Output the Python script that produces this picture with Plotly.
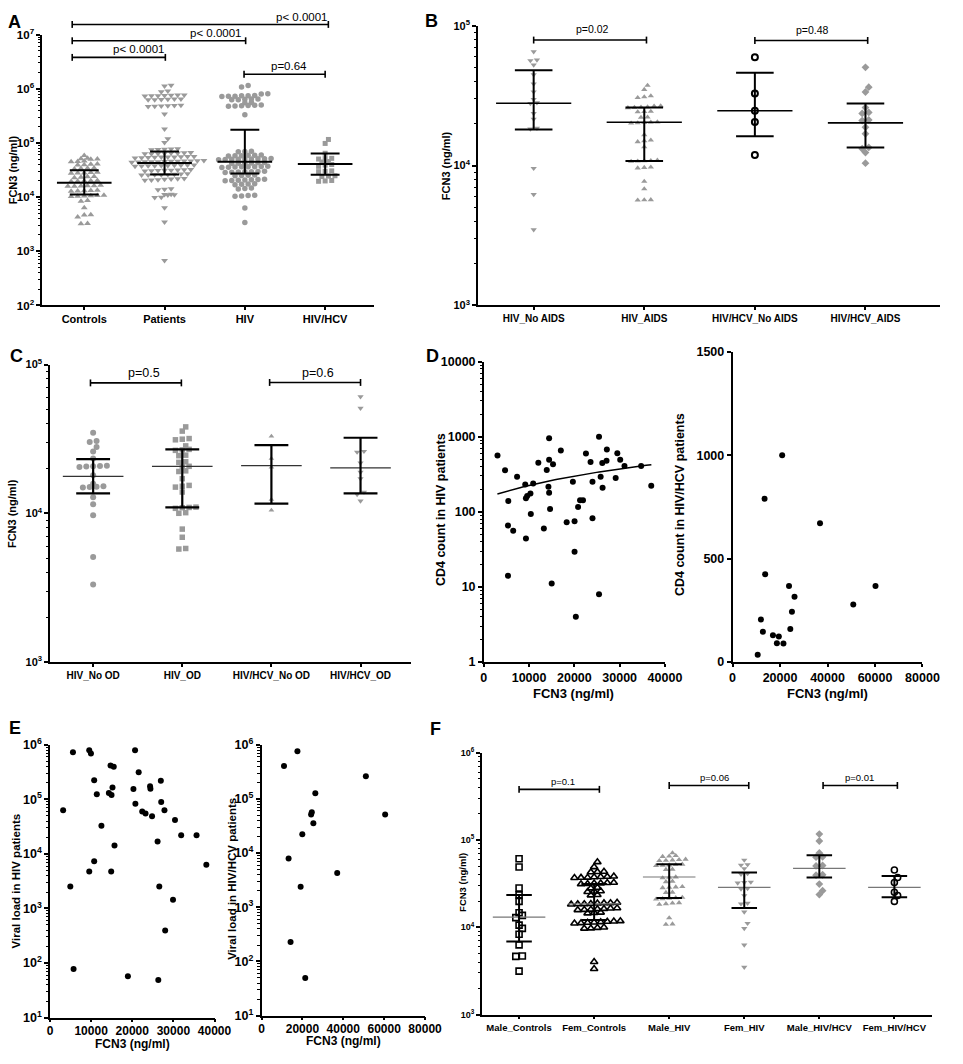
import numpy as np
import plotly.graph_objects as go

W, H = 963, 1064
FONT = "Arial, 'Liberation Sans', sans-serif"
GRAY = "#9a9a9a"

# ======================= DATA =======================
# ---- Panel A ----
a_categories = ["Controls", "Patients", "HIV", "HIV/HCV"]
a_controls = [58600, 51100, 52000, 50500, 49800, 45700, 46500, 44900, 39800, 40500, 39000, 41000,
              33700, 34500, 33000, 34000, 28000, 28500, 27500, 28800, 27800, 23400, 24000, 22800, 23700,
              19900, 20300, 19500, 20100, 19700, 16100, 16500, 15800, 16300, 15900, 16200,
              13100, 13400, 12800, 13200, 13000, 10500, 10700, 10300, 10600, 10400, 10800,
              8630, 8400, 6370, 4750, 4700, 4300, 3210, 3250]
a_patients = [1164000, 1120000, 906000, 880000,
              770000, 750000, 740000, 760000, 745000, 765000, 735000,
              645000, 630000, 640000, 625000, 650000, 635000,
              490000, 480000, 495000, 475000, 485000, 470000,
              342000, 181000, 120000, 102000,
              77000, 75500, 76800, 74900, 78000,
              65000, 64000, 66000, 63500, 64800, 65500, 63000, 66500,
              55000, 54000, 56000, 53500, 55500, 54500, 53000, 56500, 54800, 55200,
              46000, 45000, 47000, 44500, 46500, 45500, 44000, 47500, 45200, 46200, 44800, 45800,
              38500, 37800, 39000, 37500, 38800, 38000, 39300, 37200, 38300, 38600,
              31500, 31000, 32000, 30800, 31800, 31200, 32300, 30500,
              26500, 26000, 26800, 25700, 26300, 25900, 27000, 25500,
              21500, 21000, 21800, 20800, 21300, 22000, 20600,
              14000, 14300, 13700, 11100, 11300, 10900, 11200, 9910, 9800, 6370, 3490, 680]
a_hiv = [1145000, 1080000, 811000, 800000,
         740000, 730000, 745000, 725000, 750000, 720000,
         640000, 630000, 650000, 625000, 645000, 560000, 550000,
         490000, 480000, 495000, 475000, 485000, 500000, 333000,
         70000, 68500, 69500, 59000, 58000, 59500, 57500, 60000, 58300,
         50500, 50000, 51000, 49500, 51500, 49800, 50800, 49200, 51200,
         43000, 42000, 43500, 41800, 42800, 42300,
         36500, 35800, 36800, 35500, 36200, 37000, 35300, 36400,
         29500, 29000, 29800, 28800, 29300, 30000, 28500,
         25500, 25000, 25300, 24800,
         21000, 20500, 21200, 20300, 20800, 21400, 20100,
         17500, 17200, 17600, 17000, 14500, 14200, 14700,
         10800, 10500, 10700, 10400, 6270, 3400]
a_hivhcv = [116000, 98000, 64500, 52000, 50500, 51500, 45500, 44500, 40000, 39000, 37000,
            30500, 30000, 29500, 24800, 24400, 24000, 20300, 19900, 19600]
a_median = [18500, 42600, 45100, 40800]
a_low = [11200, 26200, 27400, 25800]
a_high = [31400, 69300, 175000, 63800]
a_pvalues = ["p< 0.0001", "p< 0.0001", "p< 0.0001", "p=0.64"]

# ---- Panel B ----
b_categories = ["HIV_No AIDS", "HIV_AIDS", "HIV/HCV_No AIDS", "HIV/HCV_AIDS"]
b_hiv_noaids = [65300, 56400, 57000, 52500, 44700, 38400, 33700, 29800, 28200, 27800, 23600,
                21500, 18300, 18500, 9570, 6220, 3480]
b_hiv_aids = [37400, 35000, 31500, 31000, 30600, 26600, 26700, 26000, 26100, 25900, 26200,
              24300, 24400, 24200, 22100, 22200, 20400, 20500, 20300, 20200, 20100,
              16600, 15200, 15000, 14800, 13600, 10800, 10900, 10700, 10850, 10750,
              9680, 9600, 9750, 7710, 6810, 5680, 5700, 5660]
b_hivhcv_noaids = [59600, 32800, 24700, 20500, 11900]
b_hivhcv_aids = [50400, 36400, 33600, 26000, 24000, 23600, 21200, 21000, 18800, 16900,
                 13500, 13200, 12400, 10400]
b_median = [27900, 20400, 24700, 20200]
b_low = [18100, 10800, 16200, 13500]
b_high = [48000, 26000, 46100, 27800]
b_pvalues = ["p=0.02", "p=0.48"]

# ---- Panel C ----
c_categories = ["HIV_No OD", "HIV_OD", "HIV/HCV_No OD", "HIV/HCV_OD"]
c_hiv_nood = [34800, 30600, 30100, 27900, 26000, 23400, 20700, 20800, 20600, 20900, 20500,
              18000, 15800, 15000, 15100, 14900, 15200, 12800, 11500, 9700, 5090, 3320]
c_hiv_od = [38100, 35700, 31500, 31800, 31200, 28400, 26700, 26900, 26500, 24600, 24400,
            22000, 22200, 20700, 20500, 19100, 19300, 17100, 15200, 15400, 15000, 13900,
            10900, 11000, 10800, 10950, 10000, 10100, 7830, 6900, 5750, 5800]
c_hivhcv_nood = [33000, 23400, 20400, 12400, 10500]
c_hivhcv_od = [60800, 50900, 25800, 26100, 21800, 18900, 17100, 13900, 13400, 12100]
c_median = [17700, 20700, 20900, 20200]
c_low = [13600, 10970, 11600, 13600]
c_high = [23100, 26900, 28700, 32200]
c_pvalues = ["p=0.5", "p=0.6"]

# ---- Panel D ----
d_hiv_fcn3 = [3027, 4690, 7350, 5405, 9150, 9580, 9300, 10300, 10900, 10380,
              5340, 6490, 9300, 12040, 13900, 14420, 14420, 15280, 14270, 14420,
              14630, 13260, 17010, 18300, 19670, 20040, 20820, 21250, 21900, 22550,
              23570, 24000, 24000, 25440, 25800, 26160, 26230, 27100, 27170, 29120,
              29480, 30120, 31060, 34740, 36970, 20040, 5340, 14990, 25440, 20320]
d_hiv_cd4 = [562, 357, 292, 139, 232, 163, 152, 175, 239, 93.5,
             65.9, 56.1, 44, 450, 361, 957, 493, 429, 216, 180,
             109, 60.2, 654, 72.8, 251, 75, 116, 143, 143, 598,
             460, 251, 82.2, 998, 292, 446, 210, 478, 675, 283,
             603, 493, 407, 407, 223, 29.4, 14.1, 11.1, 8.0, 4.0]
d_fit_intercept = 150.6
d_fit_slope = 0.00741
d_fit_xrange = [3000, 37000]
d_hcv_fcn3 = [20900, 13480, 36840, 13740, 23790, 60210, 26110, 50850, 25020, 11960,
              12780, 24330, 17030, 19500, 18680, 21440, 10600]
d_hcv_cd4 = [1000, 789, 671, 425, 367, 367, 316, 278, 243, 206, 146, 160, 129, 124, 90.5, 89, 35]

# ---- Panel E ----
e_hiv_fcn3 = [3190, 5580, 4940, 5730, 9540, 9950, 10740, 11380, 9540, 10740,
              12500, 14720, 15500, 14310, 14960, 15200, 15680, 14880, 18940, 20280,
              20760, 20680, 21560, 22420, 23230, 24330, 24420, 24810, 26950, 27040,
              27830, 26160, 26570, 28000, 26330, 30390, 29910, 31890, 35630, 38010]
e_hiv_vl = [63100, 730000, 2540, 78, 793000, 689000, 224000, 124000, 4740, 7300,
            32900, 419000, 396000, 131000, 120000, 164000, 14200, 4740, 57.5, 155000,
            83000, 793000, 313000, 59600, 54800, 173000, 157000, 49200, 219000, 89100,
            63100, 16900, 2540, 394, 48.8, 41700, 1446, 22000, 22000, 6340]
e_hcv_fcn3 = [11000, 17560, 51050, 26320, 24590, 24260, 60480, 25360, 19950, 13250,
              37030, 19140, 14210, 21390]
e_hcv_vl = [404000, 757000, 261000, 128000, 56700, 51400, 51400, 35700, 22200, 7960,
            4310, 2400, 228, 49.3]

# ---- Panel F ----
f_categories = ["Male_Controls", "Fem_Controls", "Male_HIV", "Fem_HIV", "Male_HIV/HCV", "Fem_HIV/HCV"]
f_male_controls = [61000, 49100, 28200, 23500, 19800, 14700, 13700, 12900, 10600, 9720,
                   8320, 6290, 4650, 4700, 3150]
f_fem_controls = [55900, 49100, 43100, 43500, 42800,
                  37800, 37200, 38000, 36900, 37600, 38300, 37000,
                  32000, 31500, 32300, 31300, 31900, 32500, 28500, 28000,
                  25800, 25500, 26000, 23500, 23300,
                  18800, 18500, 19000, 18300, 18900, 18600, 19200, 18400,
                  16300, 16000, 16500, 15900, 16200, 16600, 15800,
                  14700, 14500, 14800,
                  11500, 11300, 11700, 11200, 11600, 11100, 11400, 11800,
                  9900, 9750, 10000, 9700, 4020, 3350]
f_male_hiv = [71100, 65300, 66000, 64500, 58900, 59500, 58300, 60000, 58000,
              51700, 52200, 51200, 52700, 50800, 46200, 45800, 37200, 37600, 36800,
              33200, 33600, 28600, 28900, 28300, 29200, 25200, 25000,
              21500, 21800, 21200, 22000, 21000, 18600, 18900, 18300, 19100,
              12800, 10800, 10900]
f_fem_hiv = [58900, 51700, 52300, 47000, 40600, 41200, 32600, 32200, 33000, 27500, 27900,
             23100, 18600, 18900, 15000, 11100, 9720, 6290, 3490]
f_male_hivhcv = [117000, 97300, 71100, 63600, 64200, 50400, 51000, 39500, 40000, 31300, 26300, 23700]
f_fem_hivhcv = [45400, 37200, 32600, 25200, 23100, 19800]
f_median = [13100, 18600, 37700, 28700, 47200, 28700]
f_low = [6860, 12100, 21700, 16600, 37200, 22100]
f_high = [23500, 31300, 52600, 42400, 67000, 38800]
f_pvalues = ["p=0.1", "p=0.06", "p=0.01"]

# ======================= GEOMETRY (pixels) =======================
PANELS = {
    "A": dict(n=1, x0=40, x1=379, y0=301, y1=26, xr=[-0.524, 3.61], yr=[2, 7], ylog=True),
    "B": dict(n=2, x0=485, x1=957, y0=301, y1=17, xr=[-0.504, 3.675], yr=[3, 5], ylog=True),
    "C": dict(n=3, x0=48, x1=417, y0=663, y1=361, xr=[-0.484, 3.57], yr=[3, 5], ylog=True),
    "DL": dict(n=4, x0=491, x1=676, y0=663, y1=358, xr=[0, 40000], yr=[0, 4], ylog=True),
    "DR": dict(n=5, x0=745, x1=939, y0=663, y1=348, xr=[0, 80000], yr=[0, 1500], ylog=False),
    "EL": dict(n=6, x0=48, x1=216, y0=1024, y1=747, xr=[0, 40000], yr=[1, 6], ylog=True),
    "ER": dict(n=7, x0=264, x1=431, y0=1022, y1=747, xr=[0, 80000], yr=[1, 6], ylog=True),
    "F": dict(n=8, x0=489, x1=949, y0=1021, y1=755, xr=[-0.496, 5.505], yr=[3, 6], ylog=True),
}


def ax_names(p):
    n = PANELS[p]["n"]
    return ("x" if n == 1 else f"x{n}"), ("y" if n == 1 else f"y{n}")


def to_px(p, xv, yv):
    g = PANELS[p]
    fx = (xv - g["xr"][0]) / (g["xr"][1] - g["xr"][0])
    xpx = g["x0"] + fx * (g["x1"] - g["x0"])
    yy = np.log10(yv) if g["ylog"] else yv
    fy = (yy - g["yr"][0]) / (g["yr"][1] - g["yr"][0])
    ypx = g["y0"] + fy * (g["y1"] - g["y0"])
    return xpx, ypx


def row_swarm(ypix, h, s, d):
    """Group points into horizontal rows (Prism-like scatter dot plot)."""
    order = np.argsort(ypix, kind="stable")
    rows, cur = [], [order[0]]
    for k in order[1:]:
        if ypix[k] - ypix[cur[0]] <= h:
            cur.append(k)
        else:
            rows.append(cur)
            cur = [k]
    rows.append(cur)
    xs = np.zeros(len(ypix))
    prev_y, prev_n, prev_shift = -1e9, -1, 0.0
    for r in rows:
        n = len(r)
        ymean = float(np.mean(ypix[r]))
        shift = 0.0
        if ymean - prev_y < d and (n % 2) == (prev_n % 2) and prev_shift == 0.0:
            shift = s / 2
        for m, k in enumerate(r):
            xs[k] = (m - (n - 1) / 2) * s + shift
        prev_y, prev_n, prev_shift = ymean, n, shift
    return xs


fig = go.Figure()


def add_swarm(p, idx, values, symbol, color, size, s, h=3.2, lw=0):
    g = PANELS[p]
    xa, ya = ax_names(p)
    vals = np.asarray(values, float)
    ypix = (np.log10(vals) - g["yr"][0]) / (g["yr"][1] - g["yr"][0]) * (g["y0"] - g["y1"])
    offs = row_swarm(ypix, h, s, size)
    ppu = (g["x1"] - g["x0"]) / (g["xr"][1] - g["xr"][0])
    xs = idx + offs / ppu
    fig.add_trace(go.Scatter(x=xs, y=vals, mode="markers", xaxis=xa, yaxis=ya,
                             marker=dict(symbol=symbol, size=size, color=color,
                                         line=dict(width=lw, color=color)),
                             hoverinfo="skip", cliponaxis=False))


def add_errbars(p, med, low, high, mw, cw, lw_med, lw_bar, med_color="black"):
    xa, ya = ax_names(p)
    xm, ym, xb, yb = [], [], [], []
    for i, (m, l, h) in enumerate(zip(med, low, high)):
        xm += [i - mw, i + mw, None]
        ym += [m, m, None]
        xb += [i, i, None, i - cw, i + cw, None, i - cw, i + cw, None]
        yb += [l, h, None, l, l, None, h, h, None]
    fig.add_trace(go.Scatter(x=xm, y=ym, mode="lines", xaxis=xa, yaxis=ya,
                             line=dict(color=med_color, width=lw_med), hoverinfo="skip"))
    fig.add_trace(go.Scatter(x=xb, y=yb, mode="lines", xaxis=xa, yaxis=ya,
                             line=dict(color="black", width=lw_bar), hoverinfo="skip"))


shapes = []
annotations = []


def add_bracket(p, i, j, yv, text, tx, fsize, tshift, cap=3.5):
    x0, yp = to_px(p, i, yv)
    x1, _ = to_px(p, j, yv)
    txp, _ = to_px(p, tx, yv)
    line = dict(color="black", width=1.6)
    shapes.append(dict(type="line", xref="paper", yref="paper", x0=x0 / W, x1=x1 / W,
                       y0=1 - yp / H, y1=1 - yp / H, line=line))
    for xx in (x0, x1):
        shapes.append(dict(type="line", xref="paper", yref="paper", x0=xx / W, x1=xx / W,
                           y0=1 - (yp - cap) / H, y1=1 - (yp + cap) / H, line=line))
    annotations.append(dict(x=txp / W, y=1 - (yp - tshift) / H, xref="paper", yref="paper",
                            text=text, showarrow=False, xanchor="center", yanchor="middle",
                            font=dict(family=FONT, size=fsize, color="black")))


def add_text(xpx, ypx, text, size, angle=0, bold=True):
    annotations.append(dict(x=xpx / W, y=1 - ypx / H, xref="paper", yref="paper", text=text,
                            showarrow=False, xanchor="center", yanchor="middle", textangle=angle,
                            font=dict(family=FONT, size=size, color="black",
                                      weight="bold" if bold else "normal")))


# ---- Panel A marks ----
add_swarm("A", 0, a_controls, "triangle-up", GRAY, 6, 6.7, h=3.0)
add_swarm("A", 1, a_patients, "triangle-down", GRAY, 6, 6.7, h=3.0)
add_swarm("A", 2, a_hiv, "circle", GRAY, 5.5, 6.7, h=3.0)
add_swarm("A", 3, a_hivhcv, "square", GRAY, 5, 6.7, h=3.0)
add_errbars("A", a_median, a_low, a_high, 0.34, 0.18, 2, 2)
a_br = [(-0.15, 3.04, 1.54e7, 2.71), (-0.15, 2.01, 7.7e6, 1.63), (-0.15, 1.01, 3.8e6, 0.67),
        (1.99, 3.0, 1.86e6, 2.55)]
for (i, j, yv, tx), t in zip(a_br, a_pvalues):
    add_bracket("A", i, j, yv, t, tx, 11.5, 8)

# ---- Panel B marks ----
add_swarm("B", 0, b_hiv_noaids, "triangle-down", GRAY, 5.5, 6.7, h=3.5)
add_swarm("B", 1, b_hiv_aids, "triangle-up", GRAY, 5.5, 6.7, h=3.5)
add_swarm("B", 2, b_hivhcv_noaids, "circle-open", "black", 6, 6.7, h=3.5, lw=2)
add_swarm("B", 3, b_hivhcv_aids, "diamond", GRAY, 6, 6.7, h=3.5)
add_errbars("B", b_median, b_low, b_high, 0.34, 0.17, 1.6, 2)
b_br = [(0.0, 1.02, 79000, 0.53), (2.0, 3.02, 78500, 2.52)]
for (i, j, yv, tx), t in zip(b_br, b_pvalues):
    add_bracket("B", i, j, yv, t, tx, 10.5, 11)

# ---- Panel C marks ----
add_swarm("C", 0, c_hiv_nood, "circle", GRAY, 6, 7.0, h=3.5)
add_swarm("C", 1, c_hiv_od, "square", GRAY, 5.5, 7.0, h=3.5)
add_swarm("C", 2, c_hivhcv_nood, "triangle-up", GRAY, 5, 7.0, h=3.5)
add_swarm("C", 3, c_hivhcv_od, "triangle-down", GRAY, 5.5, 7.0, h=3.5)
add_errbars("C", c_median, c_low, c_high, 0.34, 0.19, 1.3, 2.2, med_color="#333333")
c_br = [(-0.03, 0.99, 75300, 0.57), (1.98, 3.0, 75800, 2.52)]
for (i, j, yv, tx), t in zip(c_br, c_pvalues):
    add_bracket("C", i, j, yv, t, tx, 12.5, 10)

# ---- Panel D marks ----
xa, ya = ax_names("DL")
fig.add_trace(go.Scatter(x=d_hiv_fcn3, y=d_hiv_cd4, mode="markers", xaxis=xa, yaxis=ya,
                         marker=dict(color="black", size=6), hoverinfo="skip", cliponaxis=False))
fit_x = np.linspace(d_fit_xrange[0], d_fit_xrange[1], 60)
fit_y = d_fit_intercept + d_fit_slope * fit_x
fig.add_trace(go.Scatter(x=fit_x, y=fit_y, mode="lines", xaxis=xa, yaxis=ya,
                         line=dict(color="black", width=1.5), hoverinfo="skip"))
xa, ya = ax_names("DR")
fig.add_trace(go.Scatter(x=d_hcv_fcn3, y=d_hcv_cd4, mode="markers", xaxis=xa, yaxis=ya,
                         marker=dict(color="black", size=6), hoverinfo="skip", cliponaxis=False))

# ---- Panel E marks ----
xa, ya = ax_names("EL")
fig.add_trace(go.Scatter(x=e_hiv_fcn3, y=e_hiv_vl, mode="markers", xaxis=xa, yaxis=ya,
                         marker=dict(color="black", size=6), hoverinfo="skip", cliponaxis=False))
xa, ya = ax_names("ER")
fig.add_trace(go.Scatter(x=e_hcv_fcn3, y=e_hcv_vl, mode="markers", xaxis=xa, yaxis=ya,
                         marker=dict(color="black", size=6), hoverinfo="skip", cliponaxis=False))

# ---- Panel F marks ----
add_swarm("F", 0, f_male_controls, "square-open", "black", 6, 6.7, h=3.0, lw=1.6)
add_swarm("F", 1, f_fem_controls, "triangle-up-open", "black", 6.5, 6.7, h=3.0, lw=1.6)
add_swarm("F", 2, f_male_hiv, "triangle-up", GRAY, 5.5, 6.7, h=3.0)
add_swarm("F", 3, f_fem_hiv, "triangle-down", GRAY, 5.5, 6.7, h=3.0)
add_swarm("F", 4, f_male_hivhcv, "diamond", GRAY, 6, 6.7, h=3.0)
add_swarm("F", 5, f_fem_hivhcv, "circle-open", "black", 6, 6.7, h=3.0, lw=1.6)
add_errbars("F", f_median, f_low, f_high, 0.35, 0.17, 1.2, 2, med_color="#777777")
f_br = [(0.0, 1.07, 380000, 0.59), (2.0, 3.06, 421000, 2.6), (4.05, 5.04, 421000, 4.54)]
for (i, j, yv, tx), t in zip(f_br, f_pvalues):
    add_bracket("F", i, j, yv, t, tx, 9.5, 8)

# ======================= AXES =======================
def sup_labels(lo, hi):
    return [10.0 ** k for k in range(lo, hi + 1)], [f"10<sup>{k}</sup>" for k in range(lo, hi + 1)]


def minor_vals(lo, hi):
    return [m * 10.0 ** k for k in range(lo, hi) for m in range(2, 10)]


def base_axis(fs):
    return dict(showline=True, linecolor="black", linewidth=1.5, ticks="outside", ticklen=4,
                tickwidth=1.5, tickcolor="black", showgrid=False, zeroline=False, mirror=False,
                fixedrange=True, tickfont=dict(family=FONT, size=fs, color="black", weight="bold"))


layout_axes = {}
cat_cfg = {"A": (a_categories, 11, 11.5), "B": (b_categories, 10, 11), "C": (c_categories, 10, 11),
           "F": (f_categories, 9.5, 9)}
for p, g in PANELS.items():
    n = g["n"]
    xk = "xaxis" if n == 1 else f"xaxis{n}"
    yk = "yaxis" if n == 1 else f"yaxis{n}"
    xa, ya = ax_names(p)
    xd = [g["x0"] / W, g["x1"] / W]
    yd = [1 - g["y0"] / H, 1 - g["y1"] / H]
    if p in cat_cfg:
        cats, xfs, yfs = cat_cfg[p]
        xax = base_axis(xfs)
        xax.update(type="linear", range=g["xr"], tickmode="array",
                   tickvals=list(range(len(cats))), ticktext=cats, ticklen=3)
    else:
        xfs = 12.5 if p.startswith("D") else 12
        yfs = 12.5
        xax = base_axis(xfs)
        step = 10000 if g["xr"][1] == 40000 else 20000
        tv = list(range(0, int(g["xr"][1]) + 1, step))
        xax.update(type="linear", range=g["xr"], tickmode="array",
                   tickvals=tv, ticktext=[str(v) for v in tv], ticklen=3)
        if p.startswith("E"):
            xax.update(ticklabelstandoff=-2)
    xax.update(domain=xd, anchor=ya)
    yax = base_axis(yfs)
    if g["ylog"]:
        lo, hi = g["yr"]
        if p == "DL":
            tv = [10.0 ** k for k in range(lo, hi + 1)]
            tt = [str(int(v)) for v in tv]
        else:
            tv, tt = sup_labels(lo, hi)
        yax.update(type="log", range=g["yr"], tickmode="array", tickvals=tv, ticktext=tt,
                   minor=dict(tickmode="array", tickvals=minor_vals(lo, hi), ticks="outside",
                              ticklen=2.5, tickwidth=1, tickcolor="black"))
    else:
        yax.update(type="linear", range=g["yr"], tickmode="array", tickvals=[0, 500, 1000, 1500],
                   ticktext=["0", "500", "1000", "1500"])
    yax.update(domain=yd, anchor=xa)
    layout_axes[xk] = xax
    layout_axes[yk] = yax

# ======================= TEXT =======================
for letter, (xx, yy) in {"A": (12, 13), "B": (438, 12), "C": (14, 352), "D": (439, 352),
                         "E": (12, 730), "F": (442, 731)}.items():
    add_text(xx, yy, letter, 18)

add_text(10, 163, "FCN3 (ng/ml)", 11, -90)
add_text(452, 159, "FCN3 (ng/ml)", 11, -90)
add_text(10, 512, "FCN3 (ng/ml)", 11, -90)
add_text(448, 508, "CD4 count in HIV patients", 12.5, -90)
add_text(692, 503, "CD4 count in HIV/HCV patients", 12.5, -90)
add_text(583, 695, "FCN3 (ng/ml)", 13)
add_text(842, 695, "FCN3 (ng/ml)", 13)
add_text(13, 885, "Viral load in HIV patients", 11.5, -90)
add_text(234, 883, "Viral load in HIV/HCV patients", 11.5, -90)
add_text(132, 1051, "FCN3 (ng/ml)", 12)
add_text(348, 1048, "FCN3 (ng/ml)", 12)
add_text(469, 887, "FCN3 (ng/ml)", 9.5, -90)

fig.update_layout(width=W, height=H, margin=dict(l=0, r=0, t=0, b=0),
                  paper_bgcolor="white", plot_bgcolor="white", showlegend=False,
                  font=dict(family=FONT, color="black"),
                  shapes=shapes, annotations=annotations, **layout_axes)

fig.write_html("out.html", config={"displayModeBar": False},
               post_script="document.body.style.margin='0px';document.body.style.padding='0px';")
